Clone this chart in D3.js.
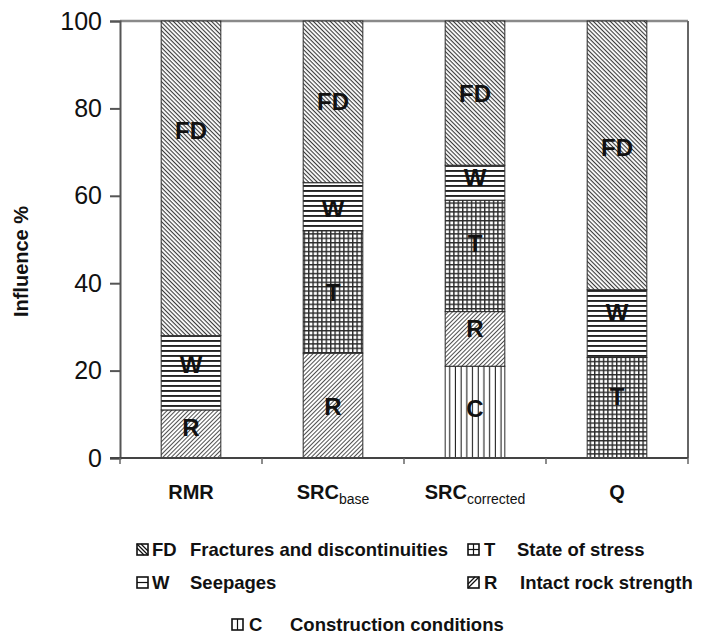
<!DOCTYPE html>
<html>
<head>
<meta charset="utf-8">
<script src="https://cdn.jsdelivr.net/npm/d3@7/dist/d3.min.js"></script>
<style>
  html, body { margin: 0; padding: 0; background: #fff; }
  svg { display: block; font-family: "Liberation Sans", Arial, Helvetica, sans-serif; }
</style>
</head>
<body>
<svg id="chart" width="704" height="638"></svg>
<script>
// ---------- data ----------
const categories = ["RMR", "SRC|base", "SRC|corrected", "Q"];
const seriesKeys = ["C", "R", "T", "W", "FD"];        // stacking order, bottom to top
const valuesC  = [0, 0, 21, 0];
const valuesR  = [11, 24, 12.5, 0];
const valuesT  = [0, 28, 25.5, 23];
const valuesW  = [17, 11, 8, 15.5];
const valuesFD = [72, 37, 33, 61.5];
// where the in-bar letters sit (in % units)
const labelAtC  = [null, null, 11.4, null];
const labelAtR  = [7, 11.7, 29.7, null];
const labelAtT  = [null, 37.8, 49, 14];
const labelAtW  = [21.3, 57, 64.3, 33.2];
const labelAtFD = [75, 81.5, 83.5, 71];
const yTicks = [0, 20, 40, 60, 80, 100];
const legendCodes = ["FD", "T", "W", "R", "C"];
const legendNames = ["Fractures and discontinuities", "State of stress", "Seepages", "Intact rock strength", "Construction conditions"];

const valueMap = { C: valuesC, R: valuesR, T: valuesT, W: valuesW, FD: valuesFD };
const labelMap = { C: labelAtC, R: labelAtR, T: labelAtT, W: labelAtW, FD: labelAtFD };

// ---------- layout ----------
const svg = d3.select("#chart");
const L = 120, R = 688, T = 21, B = 458;

const x = d3.scaleBand().domain(categories).range([L, R]).paddingInner(0.58).paddingOuter(0.29);
const slot = d3.scaleBand().domain(categories).range([L, R]).padding(0);
const y = d3.scaleLinear().domain([0, 100]).range([B, T]);

// ---------- patterns ----------
const defs = svg.append("defs");
function stripes(id, angle, pitch, width, color) {
  const p = defs.append("pattern").attr("id", id).attr("patternUnits", "userSpaceOnUse")
    .attr("width", pitch).attr("height", pitch).attr("patternTransform", `rotate(${angle})`);
  p.append("rect").attr("width", pitch).attr("height", pitch).attr("fill", "#fff");
  p.append("rect").attr("x", 0).attr("y", 0).attr("width", pitch).attr("height", width).attr("fill", color);
}
stripes("pFD", 45, 3, 1.1, "#3a3a3a");
stripes("pR", -45, 3, 1.0, "#505050");
stripes("pW", 0, 5, 1.9, "#222");
stripes("pC", 90, 5.7, 1.1, "#222");
(function () {
  const pitch = 4.4;
  const p = defs.append("pattern").attr("id", "pT").attr("patternUnits", "userSpaceOnUse")
    .attr("width", pitch).attr("height", pitch);
  p.append("rect").attr("width", pitch).attr("height", pitch).attr("fill", "#fff");
  p.append("rect").attr("width", pitch).attr("height", 1.4).attr("fill", "#2a2a2a");
  p.append("rect").attr("width", 1.4).attr("height", pitch).attr("fill", "#2a2a2a");
})();

// ---------- frame ----------
svg.append("line").attr("x1", L).attr("x2", R).attr("y1", T).attr("y2", T)
  .attr("stroke", "#8a8a8a").attr("stroke-width", 2.5);
svg.append("line").attr("x1", R).attr("x2", R).attr("y1", T).attr("y2", B)
  .attr("stroke", "#666").attr("stroke-width", 2);

// ---------- bars ----------
const table = categories.map((c, i) => {
  const o = { cat: c };
  seriesKeys.forEach(k => o[k] = valueMap[k][i]);
  return o;
});
const stack = d3.stack().keys(seriesKeys)(table);

const layers = svg.append("g").selectAll("g").data(stack).join("g")
  .attr("fill", d => `url(#p${d.key})`);
layers.selectAll("rect").data(d => d.filter(s => s[1] - s[0] > 0)).join("rect")
  .attr("x", s => x(s.data.cat))
  .attr("width", x.bandwidth())
  .attr("y", s => y(s[1]))
  .attr("height", s => y(s[0]) - y(s[1]))
  .attr("stroke", "#2b2b2b").attr("stroke-width", 1);

// in-bar letters
const labels = [];
seriesKeys.forEach(k => categories.forEach((c, i) => {
  if (valueMap[k][i] > 0 && labelMap[k][i] != null) labels.push({ k, c, v: labelMap[k][i] });
}));
svg.append("g").selectAll("text").data(labels).join("text")
  .attr("x", d => x(d.c) + x.bandwidth() / 2)
  .attr("y", d => y(d.v))
  .attr("text-anchor", "middle").attr("dominant-baseline", "central")
  .attr("font-size", 24).attr("font-weight", "bold").attr("fill", "#111")
  .text(d => d.k);

// ---------- axes ----------
const yAxis = svg.append("g").attr("transform", `translate(${L},0)`)
  .call(d3.axisLeft(y).tickValues(yTicks).tickSize(10).tickPadding(8));
yAxis.select(".domain").attr("stroke", "#555").attr("stroke-width", 2);
yAxis.selectAll(".tick line").attr("stroke", "#555").attr("stroke-width", 2);
yAxis.selectAll(".tick text").attr("font-size", 25).attr("fill", "#111")
  .attr("font-family", "'Liberation Sans', Arial, sans-serif");

// bottom axis: line + ticks at slot boundaries
const bx = svg.append("g");
bx.append("line").attr("x1", L - 10).attr("x2", R).attr("y1", B).attr("y2", B)
  .attr("stroke", "#444").attr("stroke-width", 2);
const bounds = categories.map(c => slot(c)).concat([R]);
bx.selectAll("line.tk").data(bounds).join("line").attr("class", "tk")
  .attr("x1", d => d).attr("x2", d => d).attr("y1", B).attr("y2", B + 6)
  .attr("stroke", "#666").attr("stroke-width", 1.5);

const xl = svg.append("g").selectAll("text").data(categories).join("text")
  .attr("x", c => x(c) + x.bandwidth() / 2)
  .attr("y", 499)
  .attr("text-anchor", "middle").attr("fill", "#111");
xl.each(function (c) {
  const parts = c.split("|");
  const t = d3.select(this);
  t.append("tspan").attr("font-size", 20).attr("font-weight", "bold").text(parts[0]);
  if (parts[1]) t.append("tspan").attr("font-size", 14).attr("dy", 5).text(parts[1]);
});

// y title
svg.append("text").attr("transform", `translate(28,${(T + B) / 2 + 22}) rotate(-90)`)
  .attr("text-anchor", "middle").attr("font-size", 20).attr("font-weight", "bold").attr("fill", "#111")
  .text("Influence %");

// ---------- legend ----------
const legendSlots = [
  { ix: 137, cx: 152, nx: 190, y: 556 },
  { ix: 468, cx: 484, nx: 517, y: 556 },
  { ix: 137, cx: 152, nx: 190, y: 589 },
  { ix: 468, cx: 484, nx: 520, y: 589 },
  { ix: 232, cx: 249, nx: 290, y: 631 }
];
const lg = svg.append("g");
legendCodes.forEach((code, i) => {
  const s = legendSlots[i];
  const g = lg.append("g").attr("transform", `translate(${s.ix},${s.y - 12})`);
  const sz = 11;
  g.append("rect").attr("width", sz).attr("height", sz).attr("fill", "#fff")
    .attr("stroke", "#111").attr("stroke-width", 1.6);
  const ln = (x1, y1, x2, y2) => g.append("line").attr("x1", x1).attr("y1", y1).attr("x2", x2).attr("y2", y2)
    .attr("stroke", "#111").attr("stroke-width", 1.2);
  if (code === "FD") { ln(0, 0, sz, sz); ln(0, 4, 7, sz); ln(4, 0, sz, 7); }
  if (code === "R") { ln(sz, 0, 0, sz); ln(sz - 4, 0, 0, sz - 4); }
  if (code === "T") { ln(0, sz / 2, sz, sz / 2); ln(sz / 2, 0, sz / 2, sz); }
  if (code === "W") { ln(0, sz / 2, sz, sz / 2); }
  if (code === "C") { ln(sz / 2, 0, sz / 2, sz); }
  lg.append("text").attr("x", s.cx).attr("y", s.y).attr("font-size", 18.5).attr("font-weight", "bold")
    .attr("fill", "#111").text(code);
  lg.append("text").attr("x", s.nx).attr("y", s.y).attr("font-size", 18.5).attr("font-weight", "bold")
    .attr("fill", "#111").text(legendNames[i]);
});
</script>
</body>
</html>
